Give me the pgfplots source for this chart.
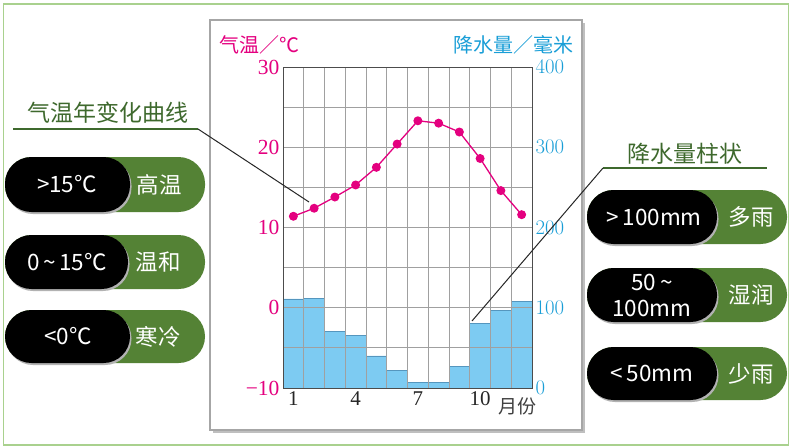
\documentclass[border=0pt]{standalone}
\usepackage{pgfplots}
\pgfplotsset{compat=1.18}
\usepackage{fontspec}
\setmainfont{Liberation Serif}
\newfontfamily\cjk{Noto Sans CJK SC}
\definecolor{mag}{RGB}{228,0,127}
\definecolor{cyanb}{RGB}{25,158,215}
\definecolor{barfill}{RGB}{125,203,242}
\definecolor{barline}{RGB}{85,150,190}
\definecolor{pgreen}{RGB}{84,130,53}
\definecolor{tgreen}{RGB}{62,105,45}
\definecolor{slideb}{RGB}{169,209,142}
\definecolor{gridc}{RGB}{160,160,160}
\newcommand\pill[5]{%
  \fill[pgreen, rounded corners=26.5pt] (#1,#2) rectangle (#3,#4);
  \fill[black!30, rounded corners=26.5pt] (#1+1.5,#2+2) rectangle (#5+1.5,#4+2);
  \fill[black, rounded corners=26.5pt] (#1,#2) rectangle (#5,#4);}
\begin{document}
\begin{tikzpicture}[x=1pt,y=-1pt]
\path[use as bounding box, fill=white] (0,0) rectangle (794,447);
\draw[slideb, line width=1.2pt] (3.5,4) rectangle (788.5,445);
% chart frame
\fill[black!25] (213,23) rectangle (585,433);
\fill[white] (210,20) rectangle (582,430);
\draw[gray!70, line width=2.5pt] (210,20) rectangle (582,430);

\begin{axis}[at={(283pt,-388pt)}, anchor=south west, scale only axis,
  width=249pt, height=321pt, xmin=0.5, xmax=12.5, ymin=0, ymax=400,
  axis line style={draw=none}, xtick=\empty,
  ytick={0,100,200,300,400}, yticklabel pos=right,
  yticklabel style={text=cyanb, font=\fontsize{21.5}{21.5}\selectfont},
  major tick length=0pt]
\addplot[ybar, bar width=20.75pt, fill=barfill, draw=barline, line width=0.8pt]
  coordinates {(1,111) (2,112) (3,70) (4,65) (5,40) (6,22) (7,7) (8,7) (9,27) (10,81) (11,97) (12,108)};
\end{axis}

\begin{axis}[at={(283pt,-388pt)}, anchor=south west, scale only axis,
  width=249pt, height=321pt, xmin=0.5, xmax=12.5, ymin=-10, ymax=30,
  xtick={1,4,7,10}, xticklabels={1,4,7,10},
  minor xtick={1.5,2.5,...,11.5}, xminorgrids=true, xmajorgrids=false,
  ytick={-10,0,10,20,30}, yticklabels={−10,0,10,20,30},
  minor ytick={-5,5,15,25}, ymajorgrids=true, yminorgrids=true,
  grid style={gridc, line width=0.8pt}, minor grid style={gridc, line width=0.8pt},
  axis line style={black!70, line width=0.9pt},
  major tick length=0pt, minor tick length=0pt,
  yticklabel style={text=mag, font=\fontsize{21.5}{21.5}\selectfont},
  xticklabel style={text=black!85, font=\fontsize{21}{21}\selectfont}]
\addplot[mag, line width=1.3pt, mark=*, mark size=3.8pt, mark options={fill=mag, draw=mag}]
  coordinates {(1,11.4) (2,12.4) (3,13.8) (4,15.3) (5,17.5) (6,20.4) (7,23.3) (8,23.0) (9,21.9) (10,18.6) (11,14.6) (12,11.6)};
\end{axis}

\node[mag, font=\cjk\fontsize{20}{20}\selectfont] at (259,45) {气温／℃};
\node[cyanb, font=\cjk\fontsize{20}{20}\selectfont] at (513,45) {降水量／毫米};
\node[black!75, font=\cjk\fontsize{19}{19}\selectfont] at (517,406) {月份};

% annotations
\draw[tgreen, line width=1.2pt] (13,129) -- (198,129);
\draw[black!85, line width=1pt] (198,129) -- (309,202);
\node[tgreen, font=\cjk\fontsize{23}{23}\selectfont] at (108,113) {气温年变化曲线};
\draw[tgreen, line width=1.2pt] (603,168) -- (767,168);
\draw[black!85, line width=1pt] (603,168) -- (472,321);
\node[tgreen, font=\cjk\fontsize{23}{23}\selectfont] at (685,154) {降水量柱状};

% left pills
\pill{5}{157}{205}{212}{130}
\pill{5}{235}{205}{289}{128}
\pill{5}{310}{205}{363}{130}
\begin{scope}[every node/.style={white, font=\cjk\fontsize{22.5}{22.5}\selectfont}]
\node at (67,184.5) {>15℃};
\node at (159,184.5) {高温};
\node at (67,262) {0\,\textasciitilde\,15℃};
\node at (158,262) {温和};
\node at (68,336.5) {<0℃};
\node at (158,336.5) {寒冷};
\end{scope}
% right pills
\pill{587}{190}{787}{244}{717}
\pill{587}{268}{787}{322}{717}
\pill{587}{347}{787}{400}{717}
\begin{scope}[every node/.style={white, font=\cjk\fontsize{22.5}{22.5}\selectfont}]
\node at (654,217) {>\,100mm};
\node at (751,217) {多雨};
\node[align=center, font=\cjk\fontsize{22.5}{26}\selectfont] at (652,295) {50\,\textasciitilde\\100mm};
\node at (751,295) {湿润};
\node at (652,373.5) {<\,50mm};
\node at (751,373.5) {少雨};
\end{scope}
\end{tikzpicture}
\end{document}
